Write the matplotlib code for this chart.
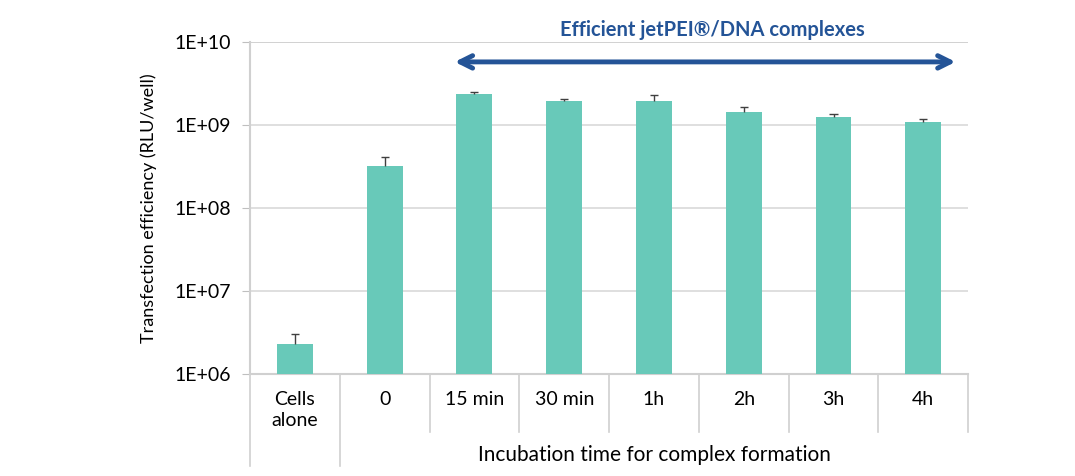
import matplotlib.pyplot as plt
import matplotlib.transforms as mtransforms
import numpy as np

plt.rcParams['font.family'] = ['Lato', 'DejaVu Sans']

categories = ['Cells\nalone', '0', '15 min', '30 min', '1h', '2h', '3h', '4h']
values = [2.3e6, 3.2e8, 2.36e9, 1.96e9, 1.96e9, 1.43e9, 1.25e9, 1.08e9]
err_top = [3.0e6, 4.1e8, 2.53e9, 2.08e9, 2.27e9, 1.65e9, 1.36e9, 1.18e9]
y_ticks = [1e6, 1e7, 1e8, 1e9, 1e10]
y_tick_labels = ['1E+06', '1E+07', '1E+08', '1E+09', '1E+10']

bar_color = '#68C9B9'
blue = '#245497'

fig = plt.figure(figsize=(10.75, 4.76), dpi=100)
ax = fig.add_axes([0.2326, 0.2143, 0.668, 0.6975])

x = np.arange(len(categories))
ax.bar(x, values, width=0.4, color=bar_color, zorder=3)
# upper error bars only
ax.vlines(x, values, err_top, color='#404040', lw=1, zorder=4)
ax.hlines(err_top, x - 0.045, x + 0.045, color='#404040', lw=1, zorder=4)

ax.set_yscale('log')
ax.set_ylim(1e6, 1e10)
ax.set_xlim(-0.5, len(categories) - 0.5)
ax.set_yticks(y_ticks)
ax.set_yticklabels(y_tick_labels, fontsize=14)
ax.yaxis.set_minor_locator(plt.NullLocator())
ax.tick_params(axis='y', length=6, color='#bfbfbf', pad=8)
ax.grid(axis='y', color='#d9d9d9', lw=1.2, zorder=0)
ax.axhline(1e10, color='#a6a6a6', lw=1.2, zorder=1)

for s in ['top', 'right']:
    ax.spines[s].set_visible(False)
ax.spines['left'].set_color('#d0d0d0')
ax.spines['left'].set_linewidth(1.5)
ax.spines['bottom'].set_color('#d0d0d0')
ax.spines['bottom'].set_linewidth(1.5)

ax.set_xticks(x)
ax.set_xticklabels(categories, fontsize=14, linespacing=1.3)
ax.tick_params(axis='x', length=0, pad=12)
for lbl in ax.get_xticklabels():
    lbl.set_verticalalignment('top')

trans = mtransforms.blended_transform_factory(ax.transData, ax.transAxes)
for b in np.arange(-0.5, len(categories), 1.0):
    bottom = -0.277 if b < 1 else -0.175
    ax.plot([b, b], [0, bottom], color='#d0d0d0', lw=1.2, transform=trans, clip_on=False)

ax.text(4.0, -0.244, 'Incubation time for complex formation', transform=trans,
        ha='center', va='center', fontsize=15)

ax.set_ylabel('Transfection efficiency (RLU/well)', fontsize=13, labelpad=12)

ax.annotate('', xy=(7.36, 0.94), xytext=(1.78, 0.94), xycoords=trans, textcoords=trans,
            arrowprops=dict(arrowstyle='<->,head_length=0.9,head_width=0.45',
                            color=blue, lw=3.5, shrinkA=0, shrinkB=0),
            annotation_clip=False)
ax.text(4.65, 1.035, 'Efficient jetPEI®/DNA complexes', transform=trans,
        ha='center', va='center', fontsize=14.5, fontweight='bold', color=blue)

fig.savefig('out.png', dpi=100)
